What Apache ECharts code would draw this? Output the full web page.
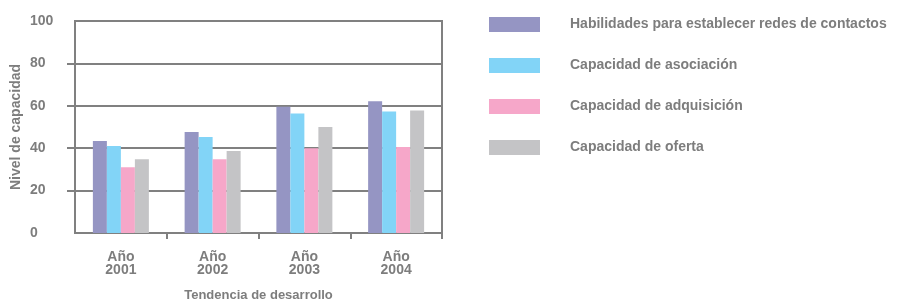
<!DOCTYPE html>
<html>
<head>
<meta charset="utf-8">
<script src="https://cdn.jsdelivr.net/npm/echarts@6/dist/echarts.min.js"></script>
<style>html,body{margin:0;padding:0;background:#fff}#c{width:897px;height:302px}</style>
</head>
<body>
<div id="c"></div>
<script>
var categories = ['Año\n2001', 'Año\n2002', 'Año\n2003', 'Año\n2004'];
var seriesNames = ['Habilidades para establecer redes de contactos', 'Capacidad de asociación', 'Capacidad de adquisición', 'Capacidad de oferta'];
var redes = [43.4, 47.6, 59.5, 62.1];
var asociacion = [41, 45.3, 56.4, 57.3];
var adquisicion = [31, 34.8, 40, 40.6];
var oferta = [34.8, 38.7, 50, 57.8];
var yTicks = [0, 20, 40, 60, 80, 100];
var xName = 'Tendencia de desarrollo';
var yName = 'Nivel de capacidad';

var colors = ['#9595C3', '#82D4F7', '#F6A7C9', '#C4C4C6'];
var values = [redes, asociacion, adquisicion, oferta];
var txt = '#7d7d7d';
var lineC = '#808080';
var font = 'Liberation Sans';

var chart = echarts.init(document.getElementById('c'), null, {renderer: 'canvas'});
chart.setOption({
  animation: false,
  backgroundColor: '#fff',
  color: colors,
  grid: {left: 75, right: 455, top: 21, bottom: 69, outerBoundsMode: 'none', containLabel: false,
    show: true, borderColor: lineC, borderWidth: 2, backgroundColor: 'transparent'},
  legend: {
    orient: 'vertical', left: 489, top: 17, padding: 0, itemWidth: 51, itemHeight: 15, itemGap: 26,
    icon: 'rect',
    textStyle: {color: txt, fontFamily: font, fontWeight: 'bold', fontSize: 14, padding: [0, 0, 0, 25]},
    data: seriesNames
  },
  xAxis: {
    type: 'category', data: categories,
    name: xName, nameLocation: 'middle', nameGap: 56,
    nameTextStyle: {color: txt, fontFamily: font, fontWeight: 'bold', fontSize: 13},
    axisLine: {lineStyle: {color: lineC, width: 2}},
    axisTick: {show: true, length: 6, interval: function (i) { return i > 0 && i < categories.length; }, lineStyle: {color: lineC, width: 2}},
    axisLabel: {color: txt, fontFamily: font, fontWeight: 'bold', fontSize: 14, lineHeight: 13, margin: 18}
  },
  yAxis: {
    type: 'value', min: 0, max: 100, interval: 20,
    name: yName, nameLocation: 'middle', nameGap: 52,
    nameTextStyle: {color: txt, fontFamily: font, fontWeight: 'bold', fontSize: 14},
    axisLine: {show: true, lineStyle: {color: lineC, width: 2}},
    axisTick: {show: true, length: 8, customValues: yTicks.slice(1, -1), lineStyle: {color: lineC, width: 2}},
    axisLabel: {color: txt, fontFamily: font, fontWeight: 'bold', fontSize: 14, align: 'left', margin: 45,
      formatter: function (v) { return yTicks.indexOf(v) >= 0 ? String(v) : ''; }},
    splitLine: {show: true, lineStyle: {color: lineC, width: 2}}
  },
  series: values.map(function (d, i) {
    return {name: seriesNames[i], type: 'bar', data: d, barWidth: 14, barGap: '0%', itemStyle: {color: colors[i]}};
  })
});
</script>
</body>
</html>
